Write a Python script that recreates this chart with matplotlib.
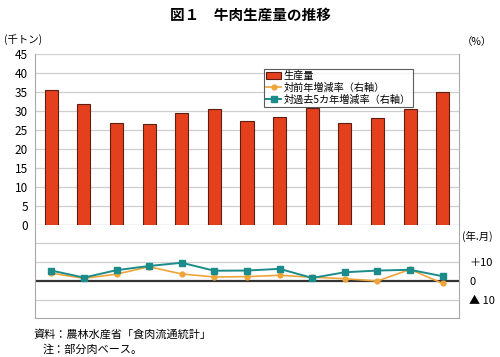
import matplotlib.pyplot as plt
from matplotlib.lines import Line2D
from matplotlib.patches import Patch

plt.rcParams["font.family"] = ["Noto Sans CJK JP", "DejaVu Sans"]

# Data
months = ["R4.11", "12", "5.1", "2", "3", "4", "5", "6", "7", "8", "9", "10", "11"]
production = [35.5, 31.8, 26.8, 26.7, 29.6, 30.4, 27.4, 28.5, 30.7, 26.9, 28.2, 30.5, 35.1]
yoy_rate = [4.1, 1.4, 3.6, 7.5, 3.7, 2.1, 2.3, 3.0, 2.0, 1.2, 0.0, 6.1, -1.3]
five_year_rate = [5.5, 1.8, 5.7, 7.9, 9.6, 5.4, 5.5, 6.4, 1.6, 4.6, 5.5, 5.9, 2.5]

BAR_COLOR = "#E5401D"
BAR_EDGE = "#5C1E10"
YOY_COLOR = "#EFA43A"
FIVE_COLOR = "#1B8C8A"
GRID_COLOR = "#CFCFCF"
SPINE_COLOR = "#A8A8A8"

W, H = 500, 357
fig = plt.figure(figsize=(W / 100, H / 100), dpi=100)


def px_axes(x0, y0, x1, y1):
    # axes from pixel box (top-left origin)
    return fig.add_axes([x0 / W, 1 - y1 / H, (x1 - x0) / W, (y1 - y0) / H])


ax = px_axes(35, 54, 459, 225)
ax2 = px_axes(35, 225, 459, 318)
x = list(range(len(months)))

# Top: production bars
ax.bar(x, production, width=0.4, color=BAR_COLOR, edgecolor=BAR_EDGE, linewidth=0.8, zorder=3)
ax.set_xlim(-0.5, len(months) - 0.5)
ax.set_ylim(0, 45)
ax.set_yticks(range(0, 46, 5))
ax.grid(axis="y", color=GRID_COLOR, linewidth=0.9, zorder=0)
ax.set_xticks(x)
ax.set_xticklabels(months)
ax.set_xticks([i - 0.5 for i in range(len(months) + 1)], minor=True)
ax.tick_params(axis="x", which="major", length=0, pad=4, labelsize=8)
ax.tick_params(axis="x", which="minor", length=3, color=SPINE_COLOR, direction="out")
ax.tick_params(axis="y", length=0, pad=5, labelsize=8.5)
ax.spines["top"].set_visible(False)
for s in ["left", "right", "bottom"]:
    ax.spines[s].set_color(SPINE_COLOR)

# Bottom: growth rates (right axis)
ax2.set_xlim(-0.5, len(months) - 0.5)
ax2.set_ylim(-19.47, 29.47)
for yv in [20, 10, -10]:
    ax2.axhline(yv, color=GRID_COLOR, linewidth=0.9, zorder=0)
ax2.axhline(0, color="#333333", linewidth=1.6, zorder=1)
ax2.plot(x, yoy_rate, color=YOY_COLOR, marker="o", markersize=3.5, linewidth=1.2, zorder=3)
ax2.plot(x, five_year_rate, color=FIVE_COLOR, marker="s", markersize=4.2, linewidth=1.4, zorder=4)
ax2.set_xticks([])
ax2.yaxis.tick_right()
ax2.set_yticks([10, 0, -10])
ax2.set_yticklabels(["＋10", "0", "▲ 10"])
ax2.tick_params(axis="y", length=0, pad=7.5, labelsize=8)
ax2.spines["top"].set_visible(False)
for s in ["left", "right", "bottom"]:
    ax2.spines[s].set_color(SPINE_COLOR)
for lbl in ax2.get_yticklabels():
    lbl.set_horizontalalignment("left")

# Legend
handles = [
    Patch(facecolor=BAR_COLOR, edgecolor=BAR_EDGE, linewidth=0.8),
    Line2D([], [], color=YOY_COLOR, marker="o", markersize=3.5, linewidth=1.2),
    Line2D([], [], color=FIVE_COLOR, marker="s", markersize=4, linewidth=1.4),
]
labels = ["生産量", "対前年増減率（右軸）", "対過去5カ年増減率（右軸）"]
leg = ax.legend(handles, labels, loc="upper left", bbox_to_anchor=(0.54, 0.915),
                fontsize=7.3, frameon=True, fancybox=False, borderpad=0.25,
                labelspacing=0.15, handlelength=1.4, handletextpad=0.3,
                borderaxespad=0)
leg.get_frame().set_edgecolor("#333333")
leg.get_frame().set_linewidth(0.8)

# Texts
fig.text(0.5, 1 - 15 / H, "図１　牛肉生産量の推移", ha="center", va="center",
         fontsize=10.5, fontweight="bold")
fig.text(4 / W, 1 - 40 / H, "(千トン)", ha="left", va="center", fontsize=7.5)
fig.text(462 / W, 1 - 42 / H, "（%）", ha="left", va="center", fontsize=7.5)
fig.text(462 / W, 1 - 236 / H, "(年.月)", ha="left", va="center", fontsize=7.5)
fig.text(33 / W, 1 - 334 / H, "資料：農林水産省「食肉流通統計」", ha="left", va="center", fontsize=8)
fig.text(43 / W, 1 - 350 / H, "注：部分肉ベース。", ha="left", va="center", fontsize=8)

fig.savefig("out.png", dpi=100)
